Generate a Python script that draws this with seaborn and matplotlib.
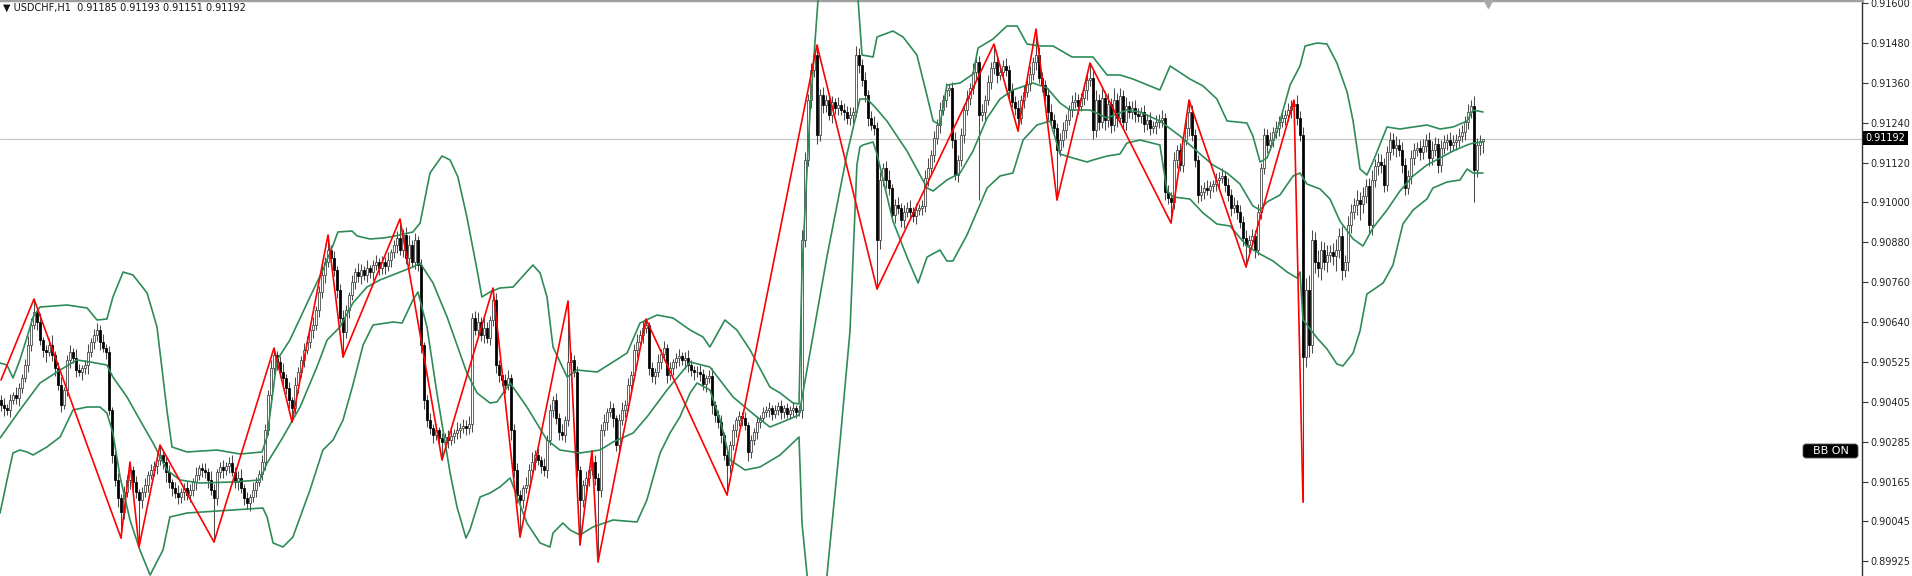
import numpy as np
import matplotlib
matplotlib.use("Agg")
import matplotlib.pyplot as plt
import matplotlib.transforms as mtransforms
from matplotlib.patches import FancyBboxPatch, Rectangle
import seaborn as sns

# hourly closes, in points (1e-5), one per bar
close_pts = [
    90394, 90385, 90379, 90409, 90424, 90415, 90445, 90475, 90514, 90574,
    90634, 90673, 90643, 90589, 90559, 90553, 90574, 90544, 90505, 90454,
    90394, 90439, 90529, 90553, 90535, 90499, 90493, 90505, 90514, 90553,
    90583, 90604, 90619, 90583, 90565, 90553, 90379, 90244, 90169, 90115,
    90073, 90133, 90169, 90199, 90163, 90133, 90109, 90133, 90154, 90184,
    90199, 90211, 90229, 90244, 90223, 90193, 90163, 90145, 90130, 90118,
    90133, 90145, 90124, 90139, 90163, 90184, 90205, 90199, 90193, 90169,
    90139, 90115, 90193, 90208, 90199, 90211, 90220, 90193, 90163, 90175,
    90145, 90115, 90100, 90118, 90139, 90163, 90187, 90223, 90319, 90424,
    90505, 90544, 90523, 90493, 90475, 90445, 90409, 90385, 90454, 90493,
    90529, 90559, 90583, 90619, 90634, 90679, 90733, 90784, 90823, 90859,
    90835, 90799, 90739, 90655, 90613, 90679, 90724, 90763, 90793, 90781,
    90799, 90784, 90805, 90793, 90814, 90823, 90805, 90823, 90811, 90829,
    90853, 90874, 90895, 90859, 90904, 90835, 90874, 90823, 90889, 90814,
    90574, 90409, 90349, 90325, 90304, 90319, 90295, 90283, 90298, 90289,
    90301, 90310, 90319, 90325, 90331, 90325, 90337, 90655, 90619, 90643,
    90604, 90625, 90595, 90649, 90709, 90514, 90484, 90469, 90454, 90475,
    90319, 90199, 90124, 90109, 90145, 90154, 90199, 90223, 90244, 90229,
    90211, 90199, 90289, 90379, 90409, 90355, 90313, 90304, 90349, 90523,
    90529, 90493, 90199, 90109, 90154, 90175, 90199, 90223, 90175, 90139,
    90319, 90343, 90373, 90385, 90355, 90274, 90349, 90379, 90394, 90454,
    90484, 90559, 90583, 90604, 90625, 90634, 90505, 90481, 90493, 90523,
    90547, 90565, 90484, 90505, 90523, 90535, 90541, 90529, 90535, 90514,
    90499, 90493, 90493, 90487, 90457, 90475, 90481, 90394, 90364, 90343,
    90304, 90244, 90214, 90274, 90319, 90349, 90361, 90355, 90334, 90253,
    90289, 90313, 90343, 90355, 90373, 90379, 90385, 90367, 90379, 90391,
    90373, 90385, 90367, 90379, 90385, 90373, 90379, 90889, 91129, 91309,
    91399, 91444, 91204, 91324, 91294, 91309, 91264, 91303, 91285, 91294,
    91279, 91273, 91255, 91264, 91273, 91444, 91414, 91369, 91324, 91255,
    91234, 91225, 90889, 91069, 91105, 91069, 91045, 90964, 90994, 90985,
    90949, 90973, 90985, 90973, 90961, 90979, 90985, 90991, 91075, 91105,
    91144, 91195, 91234, 91279, 91309, 91339, 91345, 91189, 91084, 91129,
    91204, 91279, 91315, 91345, 91393, 91423, 91264, 91273, 91309, 91363,
    91405, 91423, 91384, 91393, 91411, 91399, 91339, 91303, 91285, 91255,
    91309, 91333, 91357, 91387, 91423, 91444, 91375, 91354, 91324, 91273,
    91249, 91225, 91159, 91189, 91219, 91249, 91279, 91303, 91309, 91291,
    91315, 91339, 91369, 91375, 91219, 91309, 91243, 91315, 91249, 91297,
    91234, 91309, 91255, 91321, 91243, 91291, 91273, 91285, 91267, 91261,
    91273, 91237, 91249, 91225, 91231, 91243, 91249, 91255, 91033, 91015,
    91003, 91129, 91159, 91114, 91189, 91225, 91273, 91204, 91129, 91024,
    91033, 91045, 91039, 91051, 91057, 91069, 91075, 91081, 91054, 91024,
    90985, 90994, 90973, 90943, 90895, 90874, 90889, 90901, 90859, 90973,
    91105, 91204, 91174, 91189, 91213, 91225, 91243, 91255, 91264, 91279,
    91291, 91297, 91255, 91204, 90538, 90739, 90574, 90889, 90823, 90805,
    90859, 90823, 90844, 90853, 90841, 90859, 90901, 90799, 90823, 90934,
    90973, 90994, 91009, 90997, 91021, 91051, 90934, 91069, 91111, 91123,
    91114, 91054, 91153, 91189, 91165, 91174, 91159, 91114, 91045, 91081,
    91135, 91159, 91165, 91153, 91171, 91189, 91135, 91159, 91177, 91114,
    91165, 91183, 91189, 91174, 91183, 91189, 91201, 91213, 91243, 91273,
    91291, 91099, 91174, 91185, 91192,
]
first_open = 90409

# wick lengths above / below the candle body, in points
up_wick = [
    15, 21, 12, 18, 9, 24, 15, 12, 18, 27,
    21, 39, 12, 27, 9, 15, 21, 30, 12, 18,
    24, 9, 15, 21, 12, 27, 18, 9, 15, 24,
    12, 18, 21, 15, 24, 12, 18, 9, 15, 21,
    12, 18, 15, 24, 12, 18, 9, 15, 21, 12,
    18, 15, 21, 30, 12, 15, 21, 9, 18, 24,
    12, 15, 21, 18, 12, 24, 9, 15, 21, 12,
    27, 18, 9, 15, 21, 12, 18, 24, 15, 21,
    27, 12, 18, 9, 24, 15, 12, 21, 18, 15,
    24, 21, 12, 18, 27, 12, 18, 9, 24, 15,
    12, 21, 18, 15, 24, 12, 18, 27, 15, 45,
    15, 21, 12, 18, 24, 15, 9, 21, 12, 27,
    18, 12, 24, 9, 15, 21, 12, 18, 15, 24,
    9, 15, 21, 57, 18, 24, 30, 15, 21, 12,
    18, 9, 15, 21, 12, 18, 9, 15, 12, 21,
    18, 12, 24, 15, 21, 18, 24, 15, 21, 30,
    15, 36, 18, 12, 36, 21, 15, 9, 18, 24,
    12, 18, 21, 15, 9, 24, 18, 30, 15, 21,
    12, 24, 15, 18, 12, 21, 15, 24, 12, 183,
    24, 15, 18, 12, 15, 21, 12, 33, 21, 15,
    18, 24, 12, 21, 15, 9, 18, 24, 15, 21,
    12, 18, 24, 15, 21, 18, 9, 18, 12, 24,
    15, 21, 12, 18, 9, 15, 21, 12, 18, 24,
    15, 12, 18, 21, 15, 9, 18, 24, 12, 15,
    21, 9, 15, 12, 18, 9, 15, 12, 18, 9,
    15, 12, 18, 9, 15, 12, 18, 9, 15, 12,
    18, 9, 15, 12, 18, 9, 15, 30, 24, 18,
    21, 27, 30, 18, 24, 15, 21, 18, 12, 24,
    15, 21, 18, 24, 15, 27, 21, 18, 24, 15,
    21, 27, 18, 24, 15, 21, 30, 12, 18, 24,
    15, 21, 18, 24, 15, 21, 12, 18, 24, 30,
    15, 21, 18, 24, 15, 21, 12, 18, 24, 15,
    21, 18, 24, 15, 27, 21, 18, 24, 15, 21,
    18, 54, 15, 21, 18, 24, 15, 21, 18, 24,
    15, 21, 18, 24, 15, 78, 24, 18, 15, 21,
    24, 18, 15, 21, 24, 18, 15, 21, 24, 18,
    15, 21, 24, 45, 24, 30, 18, 27, 21, 33,
    18, 36, 21, 24, 18, 27, 15, 21, 24, 18,
    15, 21, 18, 24, 15, 21, 18, 24, 15, 21,
    18, 24, 15, 21, 18, 24, 36, 21, 18, 15,
    21, 18, 24, 15, 12, 21, 18, 24, 15, 21,
    18, 24, 15, 21, 18, 24, 15, 21, 18, 24,
    15, 21, 18, 24, 15, 21, 18, 24, 15, 21,
    18, 12, 27, 21, 24, 36, 45, 30, 24, 36,
    27, 24, 30, 21, 27, 33, 24, 30, 21, 27,
    24, 21, 30, 24, 27, 21, 24, 30, 21, 27,
    24, 21, 18, 24, 21, 27, 18, 24, 21, 18,
    24, 21, 18, 24, 21, 18, 24, 27, 21, 18,
    24, 21, 18, 24, 21, 18, 24, 21, 18, 24,
    18, 30, 21, 18, 1,
]
dn_wick = [
    18, 24, 15, 21, 12, 18, 24, 15, 12, 21,
    18, 12, 24, 15, 21, 30, 12, 18, 24, 15,
    21, 12, 18, 24, 15, 21, 12, 24, 18, 27,
    15, 21, 18, 24, 12, 21, 15, 24, 18, 27,
    78, 21, 15, 27, 24, 18, 141, 24, 15, 21,
    12, 18, 24, 15, 21, 30, 18, 24, 15, 21,
    18, 24, 15, 21, 18, 24, 15, 21, 18, 24,
    15, 132, 21, 18, 24, 15, 21, 12, 18, 24,
    15, 21, 18, 24, 15, 21, 12, 18, 24, 15,
    21, 18, 24, 15, 21, 18, 24, 42, 18, 24,
    15, 21, 12, 18, 24, 15, 21, 18, 24, 15,
    21, 18, 24, 15, 75, 18, 24, 15, 21, 18,
    24, 15, 21, 18, 24, 15, 21, 18, 24, 15,
    21, 18, 24, 15, 21, 18, 24, 15, 21, 18,
    24, 27, 21, 18, 24, 15, 21, 54, 18, 24,
    15, 21, 18, 24, 15, 21, 18, 24, 15, 21,
    18, 24, 15, 21, 18, 24, 21, 18, 24, 15,
    30, 21, 24, 111, 24, 15, 21, 18, 24, 15,
    21, 18, 24, 15, 21, 18, 24, 15, 21, 18,
    24, 15, 21, 135, 21, 18, 24, 15, 21, 216,
    21, 18, 24, 15, 27, 18, 24, 15, 21, 18,
    24, 15, 21, 18, 24, 15, 21, 18, 24, 15,
    21, 18, 24, 15, 21, 18, 24, 15, 27, 21,
    18, 24, 15, 21, 18, 24, 15, 27, 21, 18,
    24, 15, 90, 24, 15, 21, 18, 24, 15, 27,
    18, 15, 21, 18, 12, 15, 21, 18, 12, 15,
    21, 18, 12, 15, 21, 18, 12, 24, 21, 18,
    24, 21, 27, 18, 24, 21, 15, 24, 18, 21,
    15, 24, 18, 21, 24, 15, 24, 18, 21, 24,
    15, 21, 147, 27, 18, 24, 21, 15, 24, 18,
    21, 24, 15, 21, 18, 24, 15, 21, 18, 24,
    15, 21, 18, 24, 15, 21, 18, 24, 15, 21,
    18, 24, 15, 21, 18, 24, 255, 18, 24, 15,
    21, 18, 24, 15, 21, 18, 24, 15, 21, 39,
    18, 24, 15, 21, 18, 24, 15, 21, 18, 24,
    15, 21, 150, 18, 21, 24, 15, 21, 18, 24,
    15, 21, 30, 18, 27, 21, 24, 18, 30, 21,
    24, 18, 27, 15, 21, 24, 18, 21, 24, 18,
    21, 24, 18, 21, 15, 24, 18, 21, 24, 18,
    63, 21, 24, 18, 21, 15, 24, 18, 21, 24,
    18, 21, 15, 24, 18, 21, 24, 15, 21, 18,
    24, 15, 21, 18, 24, 66, 21, 18, 24, 15,
    21, 18, 24, 15, 21, 18, 24, 15, 21, 18,
    24, 15, 21, 18, 435, 30, 36, 24, 33, 27,
    36, 24, 30, 21, 27, 45, 24, 30, 21, 27,
    24, 21, 30, 48, 27, 21, 24, 30, 21, 27,
    24, 21, 18, 24, 21, 27, 18, 24, 21, 18,
    24, 21, 18, 24, 21, 18, 24, 21, 18, 24,
    21, 18, 24, 21, 18, 24, 21, 18, 24, 21,
    18, 96, 21, 30, 34,
]

# zigzag turning points: (bar, price in points)
zigzag = [
    (0, 90469), (11, 90712), (40, 89995), (43, 90223), (46, 89968), (53, 90274),
    (71, 89983), (91, 90565), (97, 90343), (109, 90904), (114, 90538), (133, 90952),
    (147, 90229), (164, 90745), (173, 89998), (189, 90706), (193, 89974), (197, 90256),
    (199, 89923), (215, 90652), (242, 90124), (272, 91474), (292, 90742), (331, 91477),
    (339, 91216), (345, 91522), (352, 91009), (363, 91420), (390, 90940), (396, 91309),
    (415, 90808), (431, 91309), (434, 90103),
]

# Bollinger bands: (bar, price in points)
bb_upper = [
    (-0.3, 90520), (2, 90514), (4, 90475), (6.3, 90529), (8.7, 90598), (10.7, 90658),
    (13, 90688), (22, 90694), (28.7, 90685), (32, 90649), (35.3, 90652), (37.3, 90718),
    (40.7, 90793), (44, 90784), (48.7, 90730), (52, 90628), (55.3, 90379), (57, 90268),
    (62, 90253), (72, 90259), (79.7, 90247), (87, 90253), (88.7, 90298), (92, 90529),
    (96.3, 90589), (103, 90718), (107.3, 90799), (110.7, 90874), (112.3, 90913),
    (117, 90916), (118.7, 90901), (123, 90892), (127.3, 90895), (129.7, 90898),
    (137.3, 90913), (139.7, 90940), (143, 91090), (147, 91141), (149.7, 91129),
    (152.3, 91078), (155.3, 90958), (158.7, 90799), (160.3, 90718), (163, 90733),
    (166.3, 90745), (170.7, 90748), (177.3, 90814), (179.7, 90790), (182, 90718),
    (184, 90568), (188.7, 90478), (192, 90499), (198.7, 90493), (204, 90523),
    (208.7, 90550), (213, 90640), (218.7, 90664), (224, 90655), (229.7, 90619),
    (234, 90598), (236.3, 90568), (241.3, 90649), (245.3, 90619), (249.7, 90559),
    (256.3, 90448), (259.7, 90430), (264, 90400), (266, 90397), (267, 90800),
    (269.7, 91279), (272.3, 91609), (274.7, 91729), (278, 91804), (281.3, 91759),
    (283.7, 91684), (285.7, 91609), (287, 91444), (290.7, 91438), (292, 91498),
    (297.3, 91516), (300.7, 91498), (305.3, 91444), (308.7, 91321), (310.7, 91246),
    (313, 91234), (315.3, 91354), (319.7, 91360), (324, 91387), (325.7, 91465),
    (330.7, 91492), (335.3, 91531), (338.7, 91531), (342, 91477), (346.3, 91471),
    (350.7, 91471), (357, 91438), (364, 91438), (368.7, 91384), (373, 91384),
    (377.3, 91372), (386.3, 91339), (389.7, 91411), (396.3, 91372), (400.7, 91351),
    (405.3, 91312), (408.7, 91246), (415.3, 91240), (417.3, 91201), (419.7, 91123),
    (422, 91135), (425.3, 91213), (429.7, 91354), (433, 91411), (434.7, 91471),
    (438.7, 91480), (442, 91477), (445.3, 91420), (448.7, 91333), (450.7, 91246),
    (453, 91102), (455.3, 91084), (457.3, 91123), (462, 91228), (466.3, 91222),
    (470.7, 91228), (475.3, 91234), (479.7, 91222), (484, 91228), (488.7, 91246),
    (490.7, 91279), (494, 91273),
]
bb_middle = [
    (-0.3, 90295), (6.3, 90379), (13, 90460), (19.7, 90499), (25.3, 90529), (29.7, 90523),
    (35.3, 90514), (37.3, 90478), (42, 90418), (46.3, 90349), (50.7, 90280), (55.3, 90199),
    (59.7, 90169), (66.3, 90160), (77.3, 90163), (86.3, 90169), (88.7, 90220), (94, 90298),
    (99.7, 90388), (105.3, 90508), (108.7, 90589), (113, 90628), (117.3, 90700),
    (122, 90748), (126.3, 90769), (137.3, 90808), (139.7, 90820), (144, 90760),
    (148.7, 90658), (155.3, 90490), (158.7, 90430), (163, 90400), (165.3, 90403),
    (169.7, 90460), (175.3, 90388), (182, 90289), (186.3, 90259), (193, 90250),
    (199.7, 90259), (204, 90283), (210.7, 90310), (215.3, 90358), (222, 90439),
    (229.7, 90523), (236.3, 90508), (244, 90418), (252, 90358), (256.3, 90328),
    (259.7, 90340), (266, 90364), (275.3, 90838), (282, 91147), (286.3, 91312),
    (288.7, 91312), (291.3, 91288), (295.3, 91246), (302, 91156), (308.7, 91045),
    (310.7, 91036), (315.3, 91069), (319.7, 91090), (324, 91156), (328.7, 91255),
    (333, 91312), (337.3, 91339), (344, 91360), (348.7, 91345), (353, 91300),
    (356.3, 91279), (363, 91279), (368.7, 91255), (375.3, 91279), (379.7, 91273),
    (386.3, 91246), (393, 91201), (399.7, 91147), (404, 91114), (408.7, 91090),
    (413, 91057), (417.3, 90991), (419.7, 90979), (422, 91003), (426.3, 91024),
    (430.7, 91081), (433, 91090), (435.3, 91057), (439.7, 91042), (443, 91012),
    (446.3, 90946), (450.7, 90892), (454, 90871), (457.3, 90925), (462, 90979),
    (466.3, 91036), (470.7, 91081), (475.3, 91114), (479.7, 91135), (484, 91156),
    (488.7, 91174), (490.7, 91180), (494, 91183),
]
bb_lower = [
    (-0.3, 90070), (2, 90169), (4, 90250), (6.3, 90259), (8.7, 90253), (10.7, 90244),
    (15.3, 90268), (19.7, 90298), (24, 90379), (28.7, 90388), (33, 90388), (35.3, 90370),
    (37.3, 90310), (39.7, 90178), (43, 90049), (46.3, 89959), (49.7, 89884), (54, 89959),
    (56.3, 90058), (62, 90070), (77.3, 90079), (87.3, 90085), (88.7, 90058), (90.7, 89980),
    (94, 89968), (97.3, 89998), (103, 90139), (107.3, 90259), (110.7, 90289), (114, 90349),
    (117.3, 90454), (120.7, 90574), (124, 90634), (130.7, 90643), (133.7, 90640),
    (137.3, 90709), (139, 90733), (142, 90628), (145.3, 90430), (149.7, 90190),
    (152, 90088), (155, 89995), (156.3, 90019), (159.7, 90118), (163, 90130),
    (166.3, 90148), (169.7, 90175), (175.3, 90040), (179.7, 89980), (183, 89968),
    (184, 90010), (187.3, 90040), (189.7, 90019), (193, 90004), (197.3, 90028),
    (204, 90049), (212, 90043), (215.3, 90109), (219.7, 90250), (223, 90310),
    (226.3, 90358), (229.7, 90430), (232, 90460), (236.3, 90439), (239.7, 90349),
    (243, 90229), (248, 90199), (253, 90208), (259.7, 90244), (266, 90298),
    (267, 90040), (268.7, 89881), (270.7, 89779), (272.3, 89749), (274, 89794),
    (275.3, 89881), (279.7, 90286), (283, 90616), (285.3, 91114), (286.3, 91168),
    (287.3, 91174), (290.7, 91183), (292, 91147), (297.3, 90946), (302, 90838),
    (305.7, 90760), (308.7, 90838), (313, 90859), (315.3, 90826), (317.3, 90826),
    (322, 90904), (328.7, 91045), (333, 91081), (337.3, 91090), (340.7, 91189),
    (345.3, 91234), (349.7, 91246), (353, 91147), (357.3, 91135), (362, 91123),
    (364, 91129), (368.7, 91141), (373, 91147), (375.3, 91180), (379.7, 91189),
    (386.3, 91174), (388.7, 91036), (390.7, 91018), (396.3, 91012), (400.7, 90970),
    (405.3, 90937), (409.7, 90931), (415.3, 90871), (419.7, 90847), (424, 90826),
    (428.7, 90793), (432, 90775), (433, 90793), (434, 90650), (438.7, 90595),
    (442, 90562), (445.3, 90517), (447.3, 90511), (450.7, 90550), (453, 90616),
    (455.3, 90727), (457.3, 90739), (460.7, 90760), (464, 90814), (467.3, 90937),
    (470.7, 90979), (475.3, 91012), (477.3, 91045), (482, 91063), (486.3, 91069),
    (488.7, 91102), (490.7, 91090), (494, 91090),
]

price_labels = ["0.91600", "0.91480", "0.91360", "0.91240", "0.91120", "0.91000",
                "0.90880", "0.90760", "0.90640", "0.90525", "0.90405", "0.90285",
                "0.90165", "0.90045", "0.89925"]
last_price = 0.91192
last_label = "0.91192"
header = "\u25BC USDCHF,H1  0.91185 0.91193 0.91151 0.91192"
button_text = "BB ON"

# ---- build OHLC ----
n = min(len(close_pts), len(up_wick), len(dn_wick))
if n != len(close_pts):
    print("length mismatch", len(close_pts), len(up_wick), len(dn_wick))
cp = np.array(close_pts[:n])
c = cp / 1e5
o = np.r_[first_open, cp[:-1]] / 1e5
hi = np.maximum(o, c) + np.array(up_wick[:n]) / 1e5
lo = np.minimum(o, c) - np.array(dn_wick[:n]) / 1e5
bars = np.arange(n)

sns.set_style("white")
plt.rcParams['font.family'] = ['DejaVu Sans']

W, H = 1912, 576
fig = plt.figure(figsize=(W / 100, H / 100), dpi=100)
ax = fig.add_axes([0, 0, 1862 / W, 1])
px = mtransforms.IdentityTransform()  # figure pixels, origin bottom-left

# candles
ax.vlines(bars, lo, hi, color='#4a4a4a', lw=0.75, zorder=2)
bull = c >= o
ax.bar(bars[bull], (c - o)[bull], bottom=o[bull], width=0.66, color='white',
       edgecolor='#3a3a3a', linewidth=0.55, zorder=3)
ax.bar(bars[~bull], (o - c)[~bull], bottom=c[~bull], width=0.66, color='black',
       edgecolor='black', linewidth=0.55, zorder=3)

# bollinger bands
for band in (bb_upper, bb_middle, bb_lower):
    bx, by = zip(*band)
    sns.lineplot(x=list(bx), y=np.array(by) / 1e5, ax=ax, color='#2e8b57', lw=1.2,
                 estimator=None, sort=False, zorder=4)

# zigzag
zx, zy = zip(*zigzag)
sns.lineplot(x=list(zx), y=np.array(zy) / 1e5, ax=ax, color='#ff0000', lw=1.2,
             estimator=None, sort=False, zorder=5)

# last price line
ax.axhline(last_price, color='#c8c8c8', lw=0.9, zorder=1)

ax.set_xlim(-1 / 3, 1861 / 3)
ax.set_ylim(0.89881, 0.91609)
ax.set_xticks([])
ticks = np.linspace(0.91600, 0.89925, len(price_labels))
ax.yaxis.tick_right()
ax.set_yticks(ticks)
ax.set_yticklabels(price_labels)
ax.tick_params(axis='y', direction='out', length=4, width=0.8, color='#333333',
               labelsize=7, labelcolor='#222222', pad=2)
for s in ('left', 'bottom'):
    ax.spines[s].set_visible(False)
ax.spines['right'].set_color('#333333')
ax.spines['right'].set_linewidth(1.0)
ax.spines['top'].set_color('#a0a0a0')
ax.spines['top'].set_linewidth(2.5)
ax.set_xlabel('')
ax.set_ylabel('')

# price tag on the axis
fig.add_artist(Rectangle((1863, H - 145), 45, 14, transform=px, fc='black', ec='black', lw=0))
fig.text(1885.5, H - 138, last_label, transform=px, ha='center', va='center',
         fontsize=7, color='white')

# "BB ON" button
fig.add_artist(FancyBboxPatch((1803, H - 458), 55, 14, transform=px,
                              boxstyle='round,pad=0,rounding_size=3',
                              fc='black', ec='#555555', lw=0.6))
fig.text(1830.5, H - 451, button_text, transform=px, ha='center', va='center',
         fontsize=8, color='white')

# chart shift marker
trans2 = mtransforms.blended_transform_factory(ax.transData, ax.transAxes)
ax.plot([1487 / 3], [0.993], marker='v', color='#a8a8a8', ms=6, transform=trans2,
        clip_on=False, zorder=10)

fig.text(3, H - 8, header, transform=px, fontsize=7, va='center', ha='left',
         color='#111111')

fig.savefig('out.png', dpi=100)
